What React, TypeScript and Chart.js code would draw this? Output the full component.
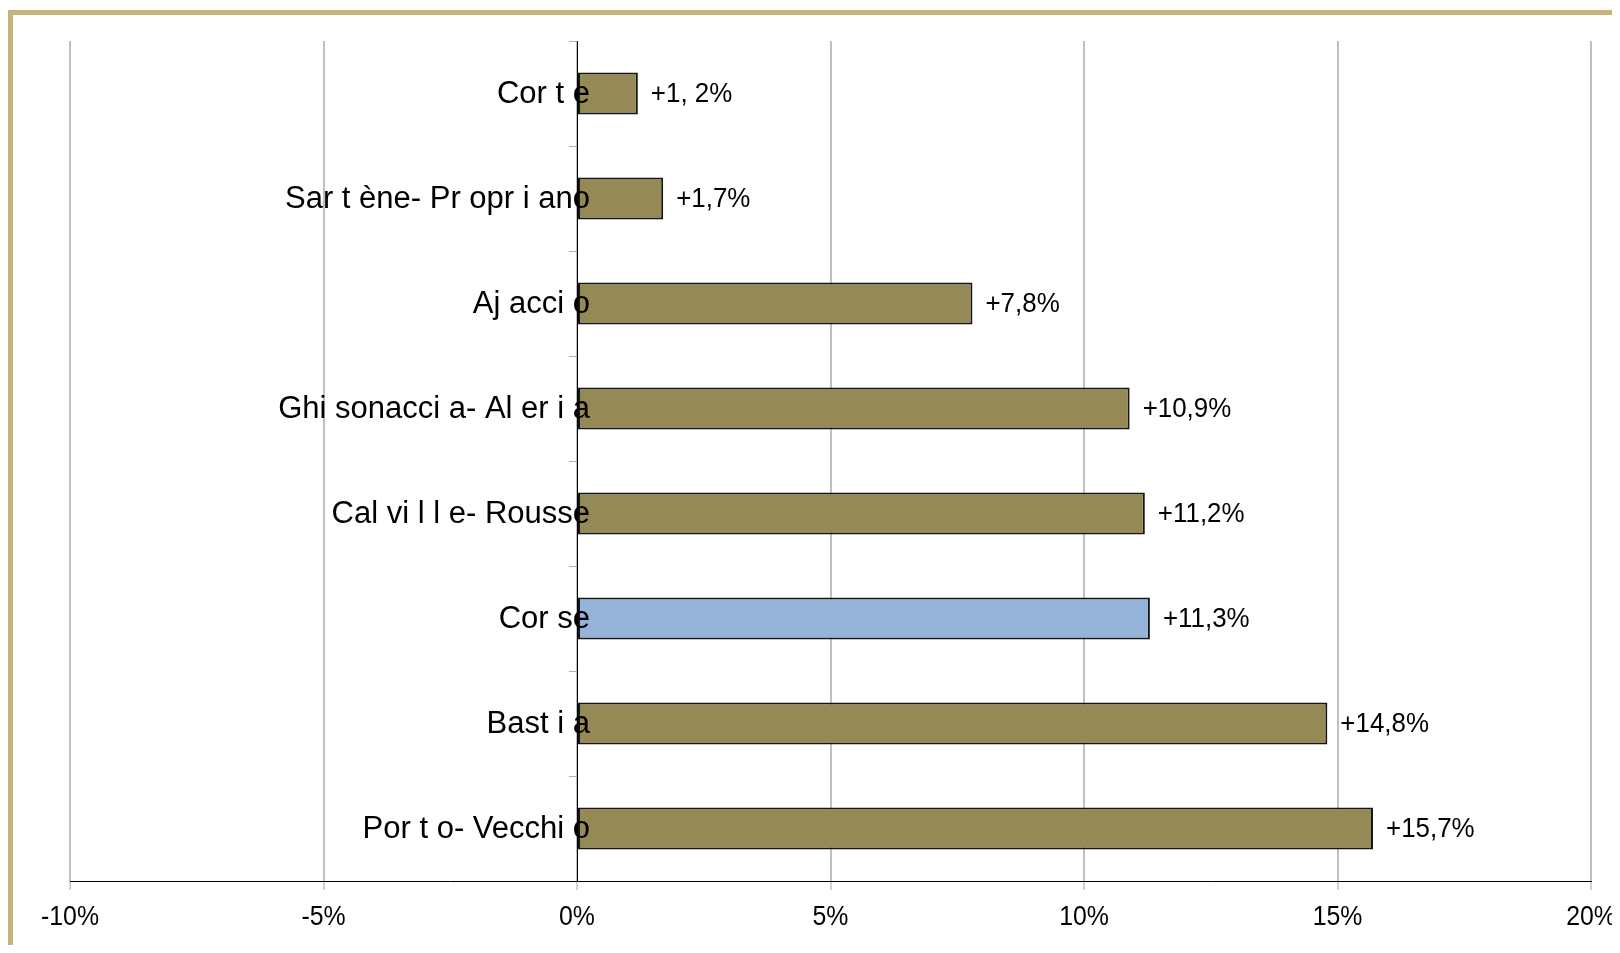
import React, { useEffect, useRef } from "react";
import { Chart, registerables } from "chart.js";

Chart.register(...registerables);

const categories = [
  "Cor t e",
  "Sar t ène- Pr opr i ano",
  "Aj acci o",
  "Ghi sonacci a- Al er i a",
  "Cal vi l l e- Rousse",
  "Cor se",
  "Bast i a",
  "Por t o- Vecchi o",
];
const values = [1.2, 1.7, 7.8, 10.9, 11.2, 11.3, 14.8, 15.7];
const valueLabels = ["+1, 2%", "+1,7%", "+7,8%", "+10,9%", "+11,2%", "+11,3%", "+14,8%", "+15,7%"];
const highlighted = ["Cor se"];
const xTickMin = -10;
const xTickMax = 20;
const xTickStep = 5;

const OLIVE = "#958A55";
const BLUE = "#95B3D7";
const SANS = '"Liberation Sans", Arial, sans-serif';

function drawScaled(ctx: CanvasRenderingContext2D, text: string, x: number, y: number, align: CanvasTextAlign, sx: number) {
  ctx.save();
  ctx.translate(x, y);
  ctx.scale(sx, 1);
  ctx.textAlign = align;
  ctx.fillText(text, 0, 0);
  ctx.restore();
}

const textPlugin = {
  id: "texts",
  afterDatasetsDraw(chart: any) {
    const ctx: CanvasRenderingContext2D = chart.ctx;
    const meta = chart.getDatasetMeta(0);
    const xs = chart.scales.x;
    const ys = chart.scales.y;
    const x0 = xs.getPixelForValue(0);
    ctx.save();
    ctx.fillStyle = "#000";
    ctx.textBaseline = "middle";

    // value labels
    ctx.font = `27px ${SANS}`;
    meta.data.forEach((bar: any, i: number) => {
      drawScaled(ctx, valueLabels[i], bar.x + 13, bar.y + 1, "left", 0.96);
    });

    // x tick labels
    xs.ticks.forEach((t: any) => {
      drawScaled(ctx, `${t.value}%`, xs.getPixelForValue(t.value), xs.top + 37, "center", 0.92);
    });

    // category labels
    ctx.font = `31px ${SANS}`;
    ctx.textAlign = "right";
    categories.forEach((c, i) => {
      ctx.fillText(c, x0 + 13, ys.getPixelForValue(i) + 1);
    });
    ctx.restore();
  },
};

export default function App() {
  const ref = useRef<HTMLCanvasElement>(null);
  useEffect(() => {
    if (!ref.current) return;
    const chart = new Chart(ref.current, {
      type: "bar",
      data: {
        labels: categories,
        datasets: [
          {
            data: values,
            backgroundColor: categories.map((c) => (highlighted.includes(c) ? BLUE : OLIVE)),
            borderColor: "#151515",
            borderWidth: 2,
            borderSkipped: false,
            categoryPercentage: 1,
            barPercentage: 0.4,
          },
        ],
      },
      options: {
        indexAxis: "y",
        responsive: false,
        animation: false,
        layout: { padding: { left: 62, right: 29, top: 33, bottom: 0 } },
        plugins: { legend: { display: false }, tooltip: { enabled: false } },
        scales: {
          x: {
            min: xTickMin,
            max: xTickMax,
            afterFit: (s: any) => {
              s.height = 64;
            },
            afterBuildTicks: (s: any) => {
              const t = [];
              for (let v = xTickMin; v <= xTickMax; v += xTickStep) t.push({ value: v });
              s.ticks = t;
            },
            grid: {
              color: "#C0C0C0",
              lineWidth: 2,
              tickLength: 9,
              tickColor: "#A8A8A8",
              tickWidth: 1,
            },
            border: { color: "#000", width: 1 },
            ticks: { display: false },
          },
          y: {
            position: { x: 0 },
            z: 1,
            grid: {
              drawOnChartArea: false,
              tickLength: 8,
              tickColor: "#B0B0B0",
              tickWidth: 1,
              offset: true,
            },
            border: { color: "#000", width: 1 },
            ticks: { display: false },
          },
        },
      },
      plugins: [textPlugin],
    });
    return () => chart.destroy();
  }, []);

  return (
    <div style={{ position: "relative", width: 1612, height: 937, overflow: "hidden" }}>
      <div
        style={{
          position: "absolute",
          left: 0,
          top: 2,
          width: 2000,
          height: 2000,
          borderTop: "5px solid #C6B37D",
          borderLeft: "5px solid #C6B37D",
        }}
      />
      <canvas
        ref={ref}
        width={1612}
        height={937}
        style={{ position: "absolute", left: 0, top: 0, width: 1612, height: 937 }}
      />
    </div>
  );
}
